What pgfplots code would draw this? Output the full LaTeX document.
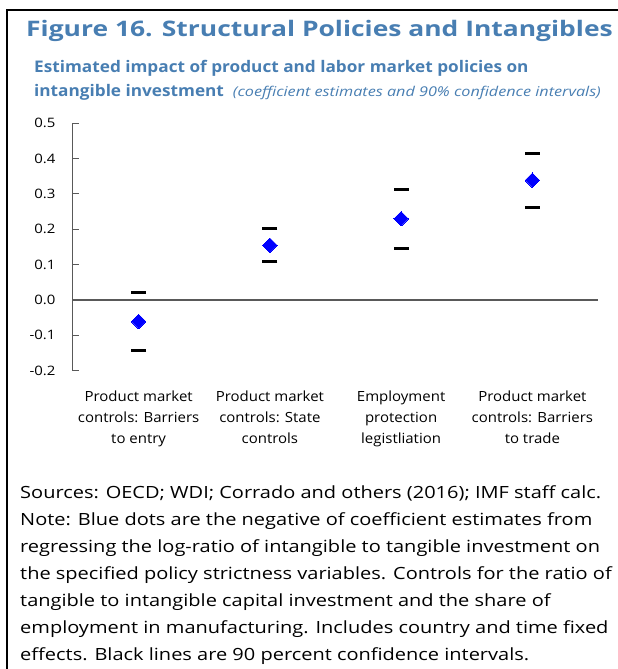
\documentclass[border=0pt]{standalone}
\usepackage{pgfplots}
\pgfplotsset{compat=1.18}
\usepackage{fontspec}
\setmainfont{Open Sans}
\newfontfamily\titlefont{Open Sans}[FakeStretch=1.235]
\newfontfamily\subfont{Open Sans}[FakeStretch=1.075]
\newfontfamily\itfont{Open Sans}[FakeStretch=1.2]
\newfontfamily\catfont{Open Sans}[FakeStretch=1.07]
\newfontfamily\tickfont{Open Sans}[FakeStretch=1.15]
\newfontfamily\footfont{Open Sans}[FakeStretch=1.19]
\definecolor{imfblue}{RGB}{72,126,178}
\definecolor{axisgray}{RGB}{89,89,89}
\begin{document}
\begin{tikzpicture}
\useasboundingbox (0pt,0pt) rectangle (618pt,-669pt);
\clip (0pt,0pt) rectangle (618pt,-669pt);
% frame
\draw[black, line width=2.3pt] (7pt,-669pt) -- (7pt,-10pt) -- (618pt,-10pt);
% title
\node[anchor=base west, inner sep=0pt, text=imfblue, font=\titlefont\fontsize{21.4}{25}\selectfont\bfseries] at (26pt,-36.5pt) {Figure 16. Structural Policies and Intangibles};
\node[anchor=base west, inner sep=0pt, text=imfblue, font=\subfont\fontsize{16}{18}\selectfont\bfseries] at (34pt,-73pt) {Estimated impact of product and labor market policies on};
\node[anchor=base west, inner sep=0pt, text=imfblue, font=\subfont\fontsize{16}{18}\selectfont] at (34pt,-96pt) {\textbf{intangible investment}\hspace{9pt}{\itfont\fontsize{13.5}{16}\selectfont\itshape (coefficient estimates and 90\% confidence intervals)}};
\begin{axis}[
  at={(73pt,-370.7pt)}, anchor=south west,
  scale only axis, width=525pt, height=247.4pt,
  xmin=0, xmax=4, ymin=-0.2, ymax=0.5,
  axis lines*=left,
  x axis line style={draw=none},
  y axis line style={draw=axisgray, line width=1pt},
  xtick={0.5,1.5,2.5,3.5},
  xticklabels={{Product market\\controls: Barriers\\to entry},{Product market\\controls: State\\controls},{Employment\\protection\\legistliation},{Product market\\controls: Barriers\\to trade}},
  xtick style={draw=none},
  xticklabel style={align=center, font=\catfont\fontsize{14}{21}\selectfont, text=black, yshift=-17pt},
  ytick={-0.2,-0.1,0,0.1,0.2,0.3,0.4,0.5},
  yticklabels={-0.2,-0.1,0.0,0.1,0.2,0.3,0.4,0.5},
  yticklabel style={font=\tickfont\fontsize{13}{16}\selectfont, text=black, xshift=-14pt},
  ytick style={draw=axisgray, line width=1pt},
  tick align=inside,
  major tick length=6pt,
  extra y ticks={0},
  extra y tick labels={},
  extra y tick style={grid=major, major grid style={draw=axisgray, line width=1.2pt}, tick style={draw=none}},
  clip=false,
]
\addplot[only marks, mark=-, mark size=7.5pt, mark options={line width=3pt, draw=black}] coordinates {
  (0.5,0.022) (1.5,0.203) (2.5,0.313) (3.5,0.415)
};
\addplot[only marks, mark=-, mark size=7.5pt, mark options={line width=3pt, draw=black}] coordinates {
  (0.5,-0.142) (1.5,0.110) (2.5,0.146) (3.5,0.262)
};
\addplot[only marks, mark=square*, mark size=5.1pt, mark options={rotate=45, fill=blue, draw=blue, line width=0pt}] coordinates {
  (0.5,-0.061) (1.5,0.155) (2.5,0.230) (3.5,0.339)
};
\end{axis}
% footer (anchored on the baseline of its last line)
\node[anchor=base west, inner sep=0pt, align=left, font=\footfont\fontsize{16.8}{27}\selectfont, text=black] at (20pt,-660pt) {Sources: OECD; WDI; Corrado and others (2016); IMF staff calc.\\
Note: Blue dots are the negative of coefficient estimates from\\
regressing the log-ratio of intangible to tangible investment on\\
the specified policy strictness variables. Controls for the ratio of\\
tangible to intangible capital investment and the share of\\
employment in manufacturing. Includes country and time fixed\\
effects. Black lines are 90 percent confidence intervals.};
\end{tikzpicture}
\end{document}
